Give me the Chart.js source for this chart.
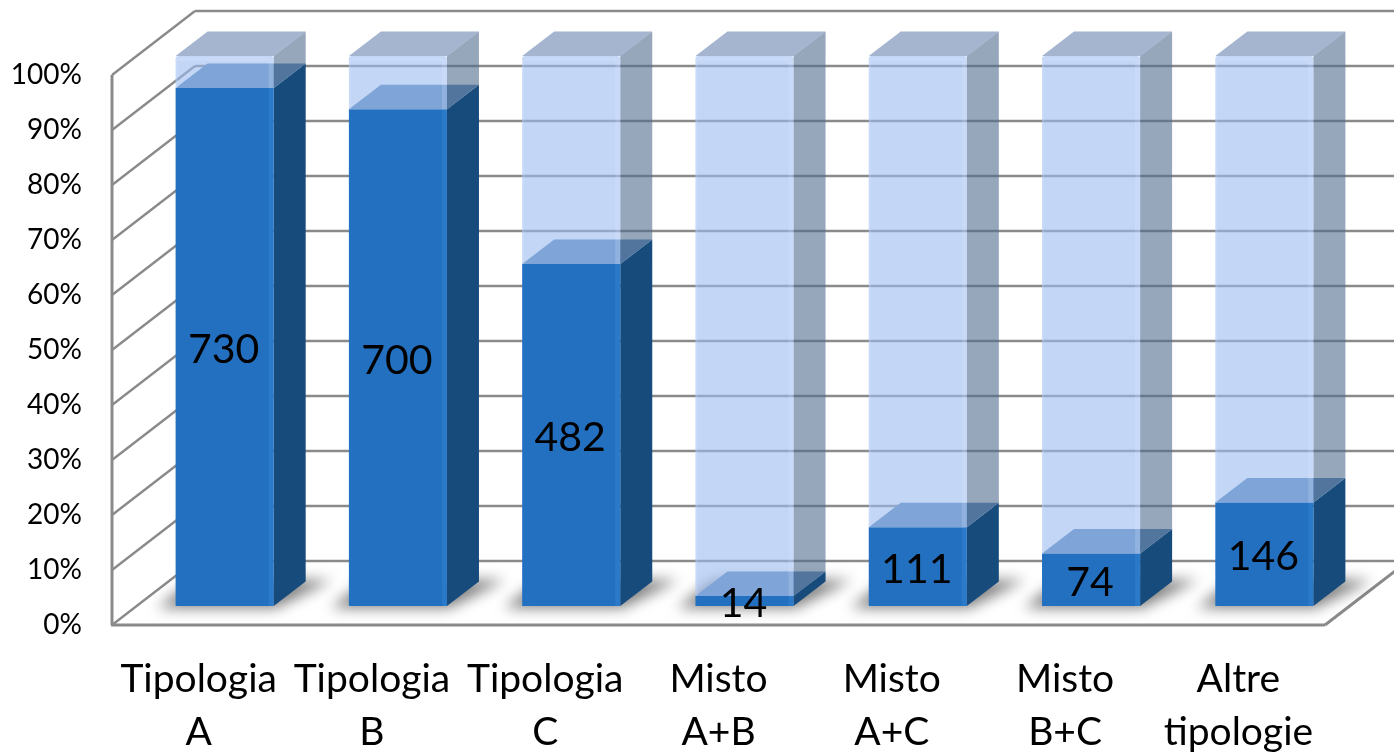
<!DOCTYPE html>
<html>
<head>
<meta charset="utf-8">
<title>Tipologie</title>
<script src="https://cdn.jsdelivr.net/npm/chart.js@4"></script>
<style>
  html, body { margin: 0; padding: 0; background: #fff; overflow: hidden; }
  canvas { display: block; }
</style>
</head>
<body>
<canvas id="chart" width="1394" height="753"></canvas>
<script>
const categories = [['Tipologia', 'A'], ['Tipologia', 'B'], ['Tipologia', 'C'], ['Misto', 'A+B'], ['Misto', 'A+C'], ['Misto', 'B+C'], ['Altre', 'tipologie']];
const presenti = [730, 700, 482, 14, 111, 74, 146];
const assenti = [45, 75, 293, 761, 664, 701, 629];
const percentTicks = ['0%', '10%', '20%', '30%', '40%', '50%', '60%', '70%', '80%', '90%', '100%'];
const TOTAL = 775;

const FONT = 'Lato, sans-serif';

// Fake 3D: depth of the walls and of the bars, in pixels
const WALL_X = 83, WALL_Y = -64;
const BAR_DX = 32, BAR_DY = -24.5;
const BAR_SHIFT_X = 26, BAR_SHIFT_Y = -19;

function poly(ctx, pts, fill) {
  ctx.beginPath();
  pts.forEach((p, i) => i ? ctx.lineTo(p[0], p[1]) : ctx.moveTo(p[0], p[1]));
  ctx.closePath();
  ctx.fillStyle = fill;
  ctx.fill();
}

function line(ctx, x0, y0, x1, y1) {
  ctx.beginPath();
  ctx.moveTo(x0, y0);
  ctx.lineTo(x1, y1);
  ctx.stroke();
}

function drawWalls(chart) {
  const ctx = chart.ctx;
  const y = chart.scales.y;
  const a = chart.chartArea;
  ctx.save();
  ctx.strokeStyle = '#8a8a8a';
  ctx.lineWidth = 2.4;
  y.ticks.forEach(t => {
    const py = y.getPixelForValue(t.value);
    line(ctx, a.left, py, a.left + WALL_X, py + WALL_Y);
    line(ctx, a.left + WALL_X, py + WALL_Y, chart.width, py + WALL_Y);
  });
  ctx.lineWidth = 3;
  line(ctx, a.left, a.top, a.left, a.bottom);
  line(ctx, a.left - 1, a.bottom, a.right, a.bottom);
  line(ctx, a.right, a.bottom, a.right + WALL_X, a.bottom + WALL_Y);
  ctx.restore();
}

function drawShadow(ctx, el) {
  const l = el.x - el.width / 2, r = el.x + el.width / 2, b = el.base;
  ctx.save();
  ctx.filter = 'blur(7px)';
  poly(ctx, [[l - 18, b + 2], [r + 2, b + 2], [r + 58, b - 26], [l + 18, b - 26]], 'rgba(0,0,0,0.5)');
  ctx.restore();
}

function drawSegment(ctx, el, side, top) {
  const l = el.x - el.width / 2, r = el.x + el.width / 2;
  poly(ctx, [[r, el.y], [r + BAR_DX, el.y + BAR_DY], [r + BAR_DX, el.base + BAR_DY], [r, el.base]], side);
  poly(ctx, [[l, el.y], [l + BAR_DX, el.y + BAR_DY], [r + BAR_DX, el.y + BAR_DY], [r, el.y]], top);
  el.draw(ctx);
}

const box3d = {
  id: 'box3d',
  beforeDatasetsDraw(chart) {
    const ctx = chart.ctx;
    const solid = chart.getDatasetMeta(0).data;
    const ghost = chart.getDatasetMeta(1).data;
    drawWalls(chart);
    ctx.save();
    ctx.translate(BAR_SHIFT_X, BAR_SHIFT_Y);
    solid.forEach(el => drawShadow(ctx, el));
    solid.forEach((el, i) => {
      const l = el.x - el.width / 2, r = el.x + el.width / 2;
      drawSegment(ctx, el, '#174b7c', 'rgb(85,133,180)');
      ctx.fillStyle = 'rgba(70,150,230,0.25)';
      ctx.fillRect(r - 5, el.y, 5, el.base - el.y);

      const g = ghost[i];
      drawSegment(ctx, g, 'rgba(80,107,142,0.6)', 'rgba(105,132,177,0.6)');
      ctx.fillStyle = 'rgba(225,238,255,0.18)';
      ctx.fillRect(l, g.y + 2, 2, g.base - g.y - 2);
      ctx.fillRect(r - 5, g.y + 2, 5, g.base - g.y - 2);
      ctx.fillRect(l + 2, g.y + 1, el.width - 7, 4);
    });
    ctx.restore();
    return false;
  },
  afterDraw(chart) {
    const ctx = chart.ctx;
    ctx.save();
    ctx.fillStyle = '#000';
    ctx.font = '41px ' + FONT;
    ctx.textAlign = 'center';
    ctx.textBaseline = 'middle';
    chart.getDatasetMeta(0).data.forEach((el, i) => {
      ctx.fillText(presenti[i], el.x + BAR_SHIFT_X - 1, (el.y + el.base) / 2 + BAR_SHIFT_Y + 3);
    });
    ctx.restore();
  }
};

new Chart(document.getElementById('chart'), {
  type: 'bar',
  data: {
    labels: categories,
    datasets: [
      { data: presenti, backgroundColor: '#2270bf', barPercentage: 0.566, categoryPercentage: 1 },
      { data: assenti, backgroundColor: 'rgba(155,187,240,0.6)', borderRadius: { topLeft: 3, topRight: 3 }, barPercentage: 0.566, categoryPercentage: 1 }
    ]
  },
  options: {
    responsive: false,
    animation: false,
    layout: { padding: { top: 75, right: 69, left: 0, bottom: 0 } },
    plugins: { legend: { display: false }, tooltip: { enabled: false } },
    scales: {
      x: {
        stacked: true,
        border: { display: false },
        grid: { display: false, drawTicks: false },
        afterFit(s) { s.height = 128; },
        ticks: {
          color: '#000',
          padding: 28,
          maxRotation: 0,
          autoSkip: false,
          font: { family: FONT, size: 39, lineHeight: 1.36 }
        }
      },
      y: {
        stacked: true,
        min: 0,
        max: TOTAL,
        border: { display: false },
        grid: { display: false, drawTicks: false },
        afterFit(s) { s.width = 112; },
        ticks: {
          stepSize: 77.5,
          color: '#000',
          padding: 30,
          font: { family: FONT, size: 28 },
          callback: (v, i) => percentTicks[i]
        }
      }
    }
  },
  plugins: [box3d]
});
</script>
</body>
</html>
